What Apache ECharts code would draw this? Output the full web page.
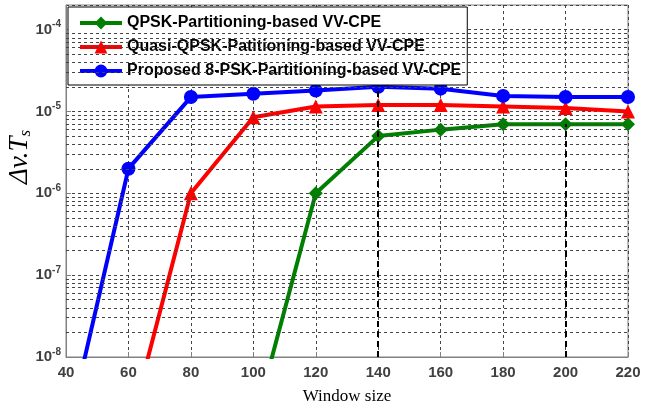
<!DOCTYPE html>
<html>
<head>
<meta charset="utf-8">
<script src="https://cdn.jsdelivr.net/npm/echarts@6/dist/echarts.min.js"></script>
<style>
  html, body { margin: 0; padding: 0; background: #fff; }
  #chart-container { width: 650px; height: 408px; }
</style>
</head>
<body>
<div id="chart-container"></div>
<script>
// window sizes on the x axis
var windowSizes = [40, 60, 80, 100, 120, 140, 160, 180, 200, 220];
// delta-nu * Ts values (points below 1e-8 are clipped)
var qpskValues = [null, null, null, 1.4e-9, 1e-6, 5e-6, 6e-6, 7e-6, 7e-6, 7e-6];
var quasiValues = [null, 1.2e-9, 1e-6, 8.5e-6, 1.15e-5, 1.2e-5, 1.2e-5, 1.15e-5, 1.1e-5, 1e-5];
var proposedValues = [1e-9, 2e-6, 1.5e-5, 1.65e-5, 1.8e-5, 2e-5, 1.9e-5, 1.55e-5, 1.5e-5, 1.5e-5];
var seriesNames = [
  "QPSK-Partitioning-based VV-CPE",
  "Quasi-QPSK-Patitioning-based VV-CPE",
  "Proposed 8-PSK-Partitioning-based VV-CPE"
];
var yMin = 1e-8, yMax = 2e-4;

var dom = document.getElementById("chart-container");
var myChart = echarts.init(dom, null, { renderer: "canvas" });

function toPairs(vals) {
  return windowSizes.map(function (x, i) {
    return vals[i] == null ? [x, null] : [x, Math.log10(vals[i])];
  });
}

// minor log grid lines (2..9 x 10^n)
var minorLines = [];
for (var n = -8; n <= -5; n++) {
  for (var k = 2; k <= 9; k++) {
    minorLines.push({ yAxis: Math.log10(k) + n });
  }
}

var lineBase = { type: "line", symbolSize: 14, lineStyle: { width: 4 }, clip: true, z: 3 };

var option = {
  animation: false,
  grid: {
    left: 66, right: 22, top: 5, bottom: 51,
    outerBoundsMode: "none",
    show: true, borderColor: "#808080", borderWidth: 1
  },
  legend: {
    orient: "vertical",
    left: 68, top: 7,
    itemWidth: 42, itemHeight: 16, itemGap: 8,
    padding: [8, 6, 6, 10],
    borderColor: "#000", borderWidth: 1,
    backgroundColor: "#fff",
    lineStyle: { width: 4 },
    textStyle: { fontFamily: "Liberation Sans, Arial", fontWeight: "bold", fontSize: 16, color: "#000" },
    data: seriesNames
  },
  xAxis: {
    type: "value", min: 40, max: 220, interval: 20,
    name: "Window size", nameLocation: "middle", nameGap: 31,
    nameMoveOverlap: false,
    nameTextStyle: { fontFamily: "Liberation Serif, Times New Roman", fontSize: 17, color: "#000" },
    axisLine: { lineStyle: { color: "#808080" } },
    axisTick: { inside: true, length: 5, lineStyle: { color: "#808080" } },
    axisLabel: { fontFamily: "Liberation Sans, Arial", fontWeight: "bold", fontSize: 15, color: "#404040", margin: 8 },
    splitLine: { show: true, lineStyle: { color: "#444", type: [3, 3], width: 1 } }
  },
  yAxis: {
    type: "value", min: Math.log10(yMin), max: Math.log10(yMax), interval: 1,
    name: "{i|Δv.T}{s|s}", nameLocation: "middle", nameGap: 32,
    nameMoveOverlap: false,
    nameTextStyle: {
      padding: [0, 0, 0, 48],
      rich: {
        i: { fontFamily: "Liberation Serif, Times New Roman", fontStyle: "italic", fontSize: 27, color: "#000" },
        s: { fontFamily: "Liberation Serif, Times New Roman", fontStyle: "italic", fontSize: 17, color: "#000", padding: [11, 0, 0, 0] }
      }
    },
    axisLine: { lineStyle: { color: "#808080" } },
    axisTick: { inside: true, length: 5, lineStyle: { color: "#808080" } },
    axisLabel: {
      showMaxLabel: false,
      margin: 5,
      formatter: function (v) {
        if (Math.abs(v - Math.round(v)) > 1e-6) return "";
        return "{b|10}{e|" + Math.round(v) + "}";
      },
      rich: {
        b: { fontFamily: "Liberation Sans, Arial", fontWeight: "bold", fontSize: 15, color: "#404040" },
        e: { fontFamily: "Liberation Sans, Arial", fontWeight: "bold", fontSize: 10, color: "#404040", padding: [0, 0, 10, 0] }
      }
    },
    splitLine: { show: true, lineStyle: { color: "#444", type: [3, 3], width: 1 } }
  },
  series: [
    {
      type: "line", data: [], silent: true, symbol: "none", z: 1,
      markLine: {
        silent: true, symbol: "none", label: { show: false }, animation: false,
        lineStyle: { color: "#444", type: [3, 3], width: 1 },
        data: minorLines
      }
    },
    Object.assign({}, lineBase, {
      name: seriesNames[0], data: toPairs(qpskValues), symbol: "diamond",
      color: "#008000",
      markLine: {
        silent: true, symbol: "none", label: { show: false },
        lineStyle: { color: "#000", type: [6, 4], width: 2 },
        data: [
          [{ coord: [140, Math.log10(yMin)] }, { coord: [140, Math.log10(proposedValues[5])] }],
          [{ coord: [200, Math.log10(yMin)] }, { coord: [200, Math.log10(qpskValues[8])] }]
        ]
      }
    }),
    Object.assign({}, lineBase, {
      name: seriesNames[1], data: toPairs(quasiValues), symbol: "triangle",
      color: "#ff0000"
    }),
    Object.assign({}, lineBase, {
      name: seriesNames[2], data: toPairs(proposedValues), symbol: "circle",
      color: "#0000ff"
    })
  ]
};

myChart.setOption(option);
</script>
</body>
</html>
